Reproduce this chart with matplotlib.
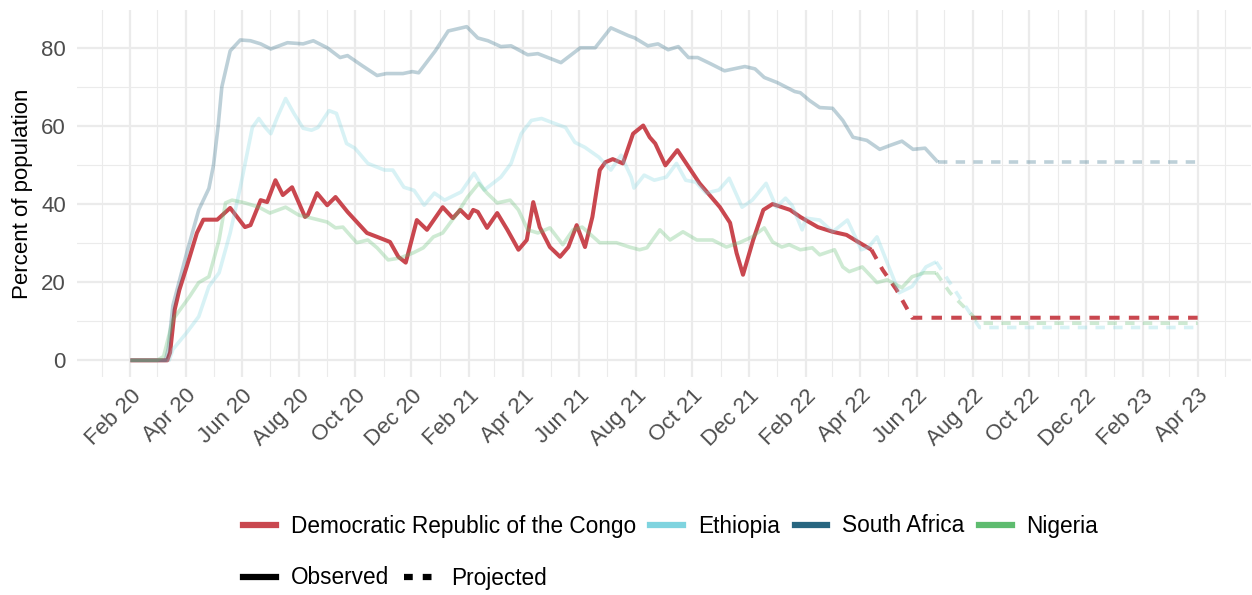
import matplotlib
matplotlib.use("Agg")
import matplotlib.pyplot as plt
import matplotlib.dates as mdates
from matplotlib.lines import Line2D
import numpy as np

plt.rcParams['font.family'] = ['Liberation Sans', 'DejaVu Sans']

# ---- data (percent of population) ----
drc_dates = ["2020-02-01", "2020-03-12", "2020-03-15", "2020-03-20", "2020-03-25", "2020-04-02",
             "2020-04-13", "2020-04-20", "2020-05-05", "2020-05-19", "2020-06-04", "2020-06-10",
             "2020-06-21", "2020-06-28", "2020-07-07", "2020-07-15", "2020-07-25", "2020-08-08",
             "2020-08-11", "2020-08-21", "2020-09-01", "2020-09-10", "2020-09-23", "2020-10-14",
             "2020-10-25", "2020-11-08", "2020-11-17", "2020-11-25", "2020-12-07", "2020-12-18",
             "2021-01-04", "2021-01-15", "2021-01-23", "2021-02-01", "2021-02-06", "2021-02-11",
             "2021-02-21", "2021-03-04", "2021-03-15", "2021-03-27", "2021-04-05", "2021-04-12",
             "2021-04-19", "2021-04-30", "2021-05-11", "2021-05-20", "2021-05-29", "2021-06-07",
             "2021-06-15", "2021-06-23", "2021-06-29", "2021-07-07", "2021-07-18", "2021-07-29",
             "2021-08-09", "2021-08-16", "2021-08-22", "2021-09-02", "2021-09-15", "2021-10-09",
             "2021-10-31", "2021-11-11", "2021-11-18", "2021-11-25", "2021-12-06", "2021-12-17",
             "2021-12-27", "2022-01-15", "2022-01-26", "2022-02-14", "2022-03-02", "2022-03-17",
             "2022-03-31", "2022-04-13"]
drc_vals = [0, 0, 2, 13, 18, 24,
            32.6, 36, 36, 39, 34.1, 34.6,
            41, 40.5, 46.1, 42.3, 44.3, 36.7,
            37.2, 42.8, 39.7, 41.8, 38, 32.6,
            31.6, 30.3, 26.5, 25, 35.9, 33.4,
            39.2, 36.4, 38.5, 36.4, 38.5, 38,
            33.9, 37.7, 33.4, 28.3, 30.8, 40.5,
            34.1, 29, 26.5, 29, 34.6, 29,
            36.7, 48.7, 50.7, 51.5, 50.4, 58,
            60.1, 57.1, 55.5, 49.9, 53.8, 45.3,
            39.2, 35.2, 27.5, 21.9, 30.8, 38.5,
            40, 38.5, 36.7, 34.1, 32.9, 32.1,
            30.1, 28.3]
drc_proj_dates = ["2022-04-13", "2022-04-25", "2022-05-10", "2022-05-27", "2023-04-01"]
drc_proj_vals = [28.3, 23.2, 18.1, 10.9, 10.9]

eth_dates = ["2020-02-01", "2020-03-14", "2020-03-18", "2020-04-02", "2020-04-15", "2020-04-26",
             "2020-05-07", "2020-05-19", "2020-05-30", "2020-06-12", "2020-06-19", "2020-06-26",
             "2020-07-02", "2020-07-09", "2020-07-18", "2020-07-27", "2020-08-06", "2020-08-15",
             "2020-08-22", "2020-09-03", "2020-09-11", "2020-09-22", "2020-10-01", "2020-10-15",
             "2020-11-02", "2020-11-11", "2020-11-23", "2020-12-04", "2020-12-15", "2020-12-26",
             "2021-01-06", "2021-01-24", "2021-02-07", "2021-02-18", "2021-03-08", "2021-03-19",
             "2021-03-30", "2021-04-10", "2021-04-21", "2021-05-02", "2021-05-17", "2021-05-27",
             "2021-06-07", "2021-06-22", "2021-07-05", "2021-07-16", "2021-07-27", "2021-07-30",
             "2021-08-10", "2021-08-21", "2021-09-03", "2021-09-14", "2021-09-24", "2021-10-05",
             "2021-10-16", "2021-10-30", "2021-11-10", "2021-11-24", "2021-12-05", "2021-12-20",
             "2021-12-31", "2022-01-10", "2022-01-17", "2022-01-28", "2022-02-01", "2022-02-16",
             "2022-03-02", "2022-03-18", "2022-04-02", "2022-04-10", "2022-04-19", "2022-04-30",
             "2022-05-13", "2022-05-27", "2022-06-11", "2022-06-22"]
eth_vals = [0, 0, 2.8, 7.1, 11.2, 18.9,
            22.4, 32.6, 44.3, 59.6, 61.9, 59.6,
            58, 62.2, 67, 63.2, 59.4, 58.9,
            59.6, 63.9, 63.2, 55.5, 54.3, 50.4,
            48.7, 48.7, 44.3, 43.5, 39.7, 42.8,
            41, 43.1, 47.9, 43.6, 46.9, 50.4,
            58, 61.4, 61.9, 60.9, 59.6, 55.8,
            54.5, 52, 48.7, 52.5, 46.9, 44.1,
            47.4, 46.1, 46.9, 50.4, 46.1, 45.6,
            42.8, 43.6, 46.6, 39.2, 41, 45.3,
            39.2, 41.5, 39.7, 33.4, 36.4, 35.9,
            32.9, 35.9, 28.3, 29, 31.6, 25,
            17.3, 18.9, 23.9, 25.2]
eth_proj_dates = ["2022-06-22", "2022-08-08", "2023-04-01"]
eth_proj_vals = [25.2, 8.4, 8.4]

sa_dates = ["2020-02-01", "2020-03-10", "2020-03-13", "2020-03-18", "2020-04-02", "2020-04-15",
            "2020-04-26", "2020-05-01", "2020-05-06", "2020-05-10", "2020-05-19", "2020-05-30",
            "2020-06-10", "2020-06-21", "2020-07-02", "2020-07-20", "2020-08-06", "2020-08-17",
            "2020-09-01", "2020-09-15", "2020-09-23", "2020-10-09", "2020-10-25", "2020-11-04",
            "2020-11-22", "2020-12-02", "2020-12-09", "2020-12-27", "2021-01-10", "2021-01-30",
            "2021-02-11", "2021-02-22", "2021-03-08", "2021-03-19", "2021-04-06", "2021-04-17",
            "2021-05-12", "2021-06-02", "2021-06-18", "2021-07-05", "2021-07-24", "2021-07-31",
            "2021-08-14", "2021-08-25", "2021-09-05", "2021-09-16", "2021-09-27", "2021-10-07",
            "2021-10-21", "2021-11-05", "2021-11-27", "2021-12-08", "2021-12-18", "2022-01-01",
            "2022-01-20", "2022-01-26", "2022-02-05", "2022-02-16", "2022-03-02", "2022-03-13",
            "2022-03-24", "2022-04-08", "2022-04-22", "2022-05-03", "2022-05-16", "2022-05-28",
            "2022-06-10", "2022-06-24"]
sa_vals = [0, 0, 3, 14, 27.5, 38.5,
           44, 50, 60, 70, 79.2, 82,
           81.8, 81, 79.7, 81.3, 81, 81.8,
           80, 77.5, 78, 75.4, 72.9, 73.4,
           73.4, 73.9, 73.6, 79.2, 84.3, 85.4,
           82.5, 81.8, 80.3, 80.5, 78.2, 78.5,
           76.2, 80, 80, 85.1, 83.1, 82.5,
           80.5, 81, 79.5, 80.3, 77.5, 77.5,
           75.9, 74.1, 75.2, 74.6, 72.4, 71.1,
           68.8, 68.5, 66.5, 64.7, 64.5, 61.4,
           57.1, 56.3, 54, 55, 56.1, 54,
           54.3, 50.7]
sa_proj_dates = ["2022-06-24", "2023-04-01"]
sa_proj_vals = [50.7, 50.7]

nga_dates = ["2020-02-01", "2020-03-01", "2020-03-08", "2020-03-18", "2020-04-05", "2020-04-15",
             "2020-04-26", "2020-05-07", "2020-05-14", "2020-05-21", "2020-06-04", "2020-06-19",
             "2020-07-01", "2020-07-18", "2020-08-01", "2020-08-15", "2020-09-01", "2020-09-10",
             "2020-09-18", "2020-10-03", "2020-10-15", "2020-10-25", "2020-11-06", "2020-11-19",
             "2020-12-03", "2020-12-14", "2020-12-25", "2021-01-04", "2021-01-20", "2021-01-31",
             "2021-02-12", "2021-02-21", "2021-03-04", "2021-03-18", "2021-03-27", "2021-04-06",
             "2021-04-17", "2021-04-30", "2021-05-14", "2021-05-25", "2021-06-04", "2021-06-23",
             "2021-07-11", "2021-07-25", "2021-08-05", "2021-08-13", "2021-08-27", "2021-09-07",
             "2021-09-21", "2021-10-06", "2021-10-23", "2021-11-07", "2021-11-21", "2021-12-05",
             "2021-12-18", "2021-12-27", "2022-01-06", "2022-01-14", "2022-01-26", "2022-02-08",
             "2022-02-16", "2022-03-04", "2022-03-13", "2022-03-20", "2022-04-03", "2022-04-19",
             "2022-04-30", "2022-05-16", "2022-05-27", "2022-06-09", "2022-06-22"]
nga_vals = [0, 0, 1, 10.4, 16.3, 19.9,
            21.4, 30.8, 40.3, 41, 40.3, 39.2,
            37.7, 39.2, 37.2, 36.4, 35.4, 33.9,
            34.1, 30.1, 30.8, 28.8, 25.7, 26.2,
            27.5, 28.8, 31.6, 32.6, 37.7, 41.8,
            45.3, 42.8, 40.3, 41, 38.5, 33.4,
            32.6, 33.9, 29.6, 33.4, 34.1, 30.1,
            30.1, 29, 28.3, 28.8, 33.4, 30.8,
            32.9, 30.8, 30.8, 29, 30.1, 31.6,
            33.9, 30.3, 29, 29.6, 28.3, 28.8,
            27, 28.3, 23.9, 22.7, 23.9, 19.9,
            20.6, 18.6, 21.4, 22.4, 22.4]
nga_proj_dates = ["2022-06-22", "2022-07-07", "2022-07-25", "2022-08-08", "2023-04-01"]
nga_proj_vals = [22.4, 17.3, 13, 9.5, 9.5]

countries = ["Democratic Republic of the Congo", "Ethiopia", "South Africa", "Nigeria"]
colors = ["#C9474F", "#7FD4DF", "#276680", "#5EBC6F"]

series = [
    (drc_dates, drc_vals, drc_proj_dates, drc_proj_vals),
    (eth_dates, eth_vals, eth_proj_dates, eth_proj_vals),
    (sa_dates, sa_vals, sa_proj_dates, sa_proj_vals),
    (nga_dates, nga_vals, nga_proj_dates, nga_proj_vals),
]

fig = plt.figure(figsize=(12.52, 5.95), dpi=100)
ax = fig.add_axes([77/1252, 1 - 377/595, (1251 - 77)/1252, (377 - 10)/595])

for i, (d, v, pd_, pv) in enumerate(series):
	alpha = 1.0 if i == 0 else 0.3
	lw = 2.9 if i == 0 else 2.6
	ax.plot(np.array(d, dtype="datetime64[D]"), v, color=colors[i], alpha=alpha, lw=lw,
	        solid_joinstyle="round", solid_capstyle="butt", zorder=2)
	ax.plot(np.array(pd_, dtype="datetime64[D]"), pv, color=colors[i], alpha=alpha, lw=lw,
	        dashes=(2.6, 2.3), dash_joinstyle="round", zorder=2)

# ggplot-like expansion
x0, x1 = mdates.date2num(np.datetime64("2020-02-01")), mdates.date2num(np.datetime64("2023-04-01"))
ax.set_xlim(x0 - 0.05*(x1 - x0), x1 + 0.05*(x1 - x0))
ymax = max(sa_vals)
ax.set_ylim(-0.05*ymax, ymax*1.05)

ax.xaxis.set_major_locator(mdates.MonthLocator(bymonth=[2, 4, 6, 8, 10, 12]))
ax.xaxis.set_minor_locator(mdates.MonthLocator(bymonth=[1, 3, 5, 7, 9, 11]))
ax.xaxis.set_major_formatter(mdates.DateFormatter("%b %y"))
ax.set_yticks([0, 20, 40, 60, 80])
ax.set_yticks([10, 30, 50, 70], minor=True)

ax.grid(which="major", color="#EBEBEB", lw=1.6, zorder=0)
ax.grid(which="minor", color="#EBEBEB", lw=0.8, zorder=0)
ax.set_axisbelow(True)
for s in ax.spines.values():
	s.set_visible(False)
ax.tick_params(which="both", length=0, labelsize=16, labelcolor="#4D4D4D")
ax.tick_params(axis="y", pad=8)
ax.tick_params(axis="x", pad=6)
for lab in ax.get_xticklabels():
	lab.set_rotation(45)
	lab.set_ha("right")
	lab.set_va("top")
	lab.set_rotation_mode("anchor")

ax.set_ylabel("Percent of population", fontsize=16, color="black", labelpad=6)

# legends
h1 = [Line2D([], [], color=c, lw=4.5) for c in colors]
fig.legend(h1, countries, loc="center left", bbox_to_anchor=(243/1252, 1 - 526/595),
           ncol=4, frameon=False, fontsize=16.3, handlelength=1.45, handletextpad=0.65,
           columnspacing=0.65, borderpad=0, borderaxespad=0)
h2 = [Line2D([], [], color="black", lw=4.5),
      Line2D([], [], color="black", lw=4.5, dashes=(1.4, 1.6))]
fig.legend(h2, ["Observed", "Projected"], loc="center left", bbox_to_anchor=(243/1252, 1 - 578/595),
           ncol=2, frameon=False, fontsize=16.3, handlelength=1.45, handletextpad=0.65,
           columnspacing=0.65, borderpad=0, borderaxespad=0)

fig.savefig("out.png", dpi=100)
